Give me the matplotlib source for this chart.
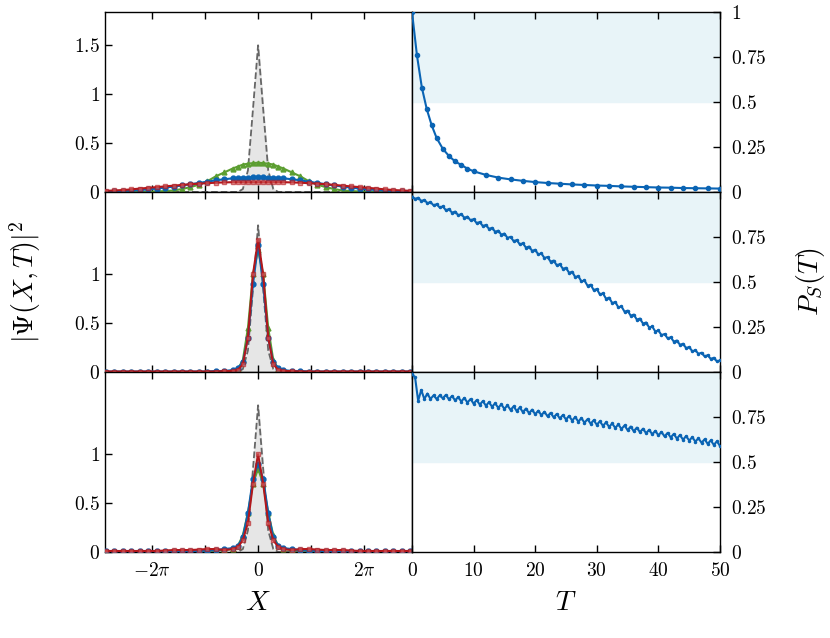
import numpy as np
import matplotlib
matplotlib.use("Agg")
import matplotlib.pyplot as plt

plt.rcParams['mathtext.fontset'] = 'cm'
plt.rcParams['font.family'] = 'serif'
plt.rcParams['font.serif'] = ['cmr10', 'DejaVu Serif']
plt.rcParams['axes.formatter.use_mathtext'] = True

# ---- left panels: |Psi(X,T)|^2 ----
xh = [0, 0.3, 0.6, 0.9, 1.2, 1.5, 2, 2.5, 3, 3.5, 4, 4.5, 5, 5.5, 6, 6.5, 7, 7.5, 8, 8.5, 9]
gray_h = [1.5, 0.85, 0.22, 0.03, 0, 0, 0, 0, 0, 0, 0, 0, 0, 0, 0, 0, 0, 0, 0, 0, 0]
top_green = [0.30, 0.295, 0.29, 0.28, 0.26, 0.24, 0.2, 0.16, 0.11, 0.075, 0.05, 0.03, 0.015, 0.01, 0.005, 0.003, 0, 0, 0, 0, 0]
top_blue = [0.15, 0.15, 0.148, 0.146, 0.143, 0.14, 0.13, 0.12, 0.105, 0.092, 0.08, 0.067, 0.055, 0.045, 0.035, 0.027, 0.02, 0.015, 0.01, 0.007, 0.005]
top_red = [0.10, 0.10, 0.10, 0.10, 0.10, 0.10, 0.098, 0.095, 0.09, 0.085, 0.08, 0.072, 0.065, 0.057, 0.05, 0.042, 0.035, 0.027, 0.02, 0.016, 0.012]
mid_red = [1.35, 1.0, 0.35, 0.08, 0.02, 0.01, 0.01, 0.005, 0.005, 0.005, 0.005, 0.005, 0.005, 0.005, 0.005, 0.005, 0.005, 0.005, 0.005, 0.005, 0.005]
mid_blue = [1.3, 0.9, 0.35, 0.1, 0.04, 0.02, 0.01, 0.01, 0.005, 0.005, 0.005, 0.005, 0.005, 0.005, 0.005, 0.005, 0.005, 0.005, 0.005, 0.005, 0.005]
mid_green = [1.25, 1.0, 0.45, 0.12, 0.03, 0.01, 0.005, 0.005, 0, 0, 0, 0, 0, 0, 0, 0, 0, 0, 0, 0, 0]
bot_red = [1.0, 0.7, 0.3, 0.12, 0.05, 0.03, 0.02, 0.03, 0.03, 0.025, 0.02, 0.02, 0.02, 0.015, 0.01, 0.01, 0.01, 0.01, 0.01, 0.01, 0.01]
bot_blue = [0.9, 0.75, 0.4, 0.15, 0.06, 0.04, 0.03, 0.02, 0.015, 0.012, 0.01, 0.01, 0.01, 0.01, 0.01, 0.01, 0.01, 0.01, 0.01, 0.01, 0.01]
bot_green = [0.85, 0.7, 0.4, 0.17, 0.06, 0.03, 0.02, 0.015, 0.01, 0.008, 0.005, 0.005, 0.005, 0.005, 0.005, 0.005, 0.005, 0.005, 0.005, 0.005, 0.005]

def sym(v):
    return np.array(v[::-1][:-1] + v)
X = np.concatenate([-np.array(xh[::-1][:-1]), np.array(xh)])

# ---- right panels: P_S(T) ----
T_top = [0, 0.8, 1.6, 2.4, 3.2, 4, 5, 6, 7, 8, 9, 10, 12, 14, 16, 18, 20, 22, 24, 26, 28, 30, 32, 34, 36, 38, 40, 42, 44, 46, 48, 50]
P_top = [1.0, 0.76, 0.58, 0.46, 0.37, 0.30, 0.24, 0.20, 0.17, 0.15, 0.13, 0.115, 0.095, 0.08, 0.07,
         0.062, 0.055, 0.050, 0.046, 0.042, 0.039, 0.036, 0.034, 0.031, 0.029, 0.027, 0.025, 0.024, 0.022, 0.021, 0.020, 0.019]
T_half = np.arange(0, 50.01, 0.5)
P_mid = [0.975,0.962,0.968,0.950,0.956,0.938,0.944,0.926,0.932,0.914,0.920,
 0.899,0.905,0.885,0.891,0.871,0.877,0.857,0.863,0.843,0.849,
 0.827,0.833,0.811,0.817,0.795,0.801,0.779,0.785,0.763,0.769,
 0.745,0.751,0.727,0.733,0.709,0.715,0.691,0.697,0.673,0.679,
 0.653,0.659,0.633,0.639,0.613,0.619,0.593,0.599,0.573,0.579,
 0.551,0.557,0.527,0.533,0.503,0.509,0.479,0.485,0.455,0.461,
 0.431,0.437,0.407,0.413,0.383,0.389,0.359,0.365,0.335,0.341,
 0.313,0.319,0.291,0.297,0.269,0.275,0.247,0.253,0.225,0.231,
 0.205,0.211,0.187,0.193,0.169,0.175,0.151,0.157,0.133,0.139,
 0.115,0.121,0.101,0.107,0.087,0.093,0.073,0.079,0.059,0.065]
P_bot = [0.99,0.97,0.84,0.90,0.85,0.88,0.85,0.87,0.85,0.87,
 0.854,0.873,0.848,0.867,0.842,0.861,0.836,0.856,0.830,0.850,0.824,0.844,0.819,0.838,0.813,0.832,
 0.807,0.826,0.801,0.820,0.795,0.815,0.789,0.809,0.783,0.803,0.777,0.797,0.771,0.791,0.765,0.785,
 0.760,0.779,0.754,0.773,0.748,0.767,0.742,0.761,0.736,0.756,0.730,0.750,0.724,0.744,0.718,0.738,
 0.713,0.732,0.707,0.726,0.701,0.720,0.695,0.714,0.689,0.709,0.683,0.703,0.677,0.697,0.671,0.691,
 0.666,0.685,0.660,0.679,0.654,0.673,0.648,0.667,0.642,0.662,0.636,0.656,0.630,0.650,0.624,0.644,
 0.619,0.638,0.613,0.632,0.607,0.626,0.601,0.620,0.595,0.615,0.589]

BLUE = '#0a64b4'; GREEN = '#5c9e31'; RED = '#b2171c'
fig = plt.figure(figsize=(8.3, 6.38), dpi=100)
W, H = 830, 638
rows = [(12, 192), (192, 372), (372, 552)]
left_sets = [(top_green, top_blue, top_red), (mid_green, mid_blue, mid_red), (bot_green, bot_blue, bot_red)]
right_sets = [(T_top, P_top, 3), (T_half, P_mid, 1.5), (T_half, P_bot, 1.5)]

for i, (y0, y1) in enumerate(rows):
    b = 1 - y1 / H; h = (y1 - y0) / H
    axl = fig.add_axes([105 / W, b, 307 / W, h])
    axr = fig.add_axes([412 / W, b, 308 / W, h])
    g = sym(gray_h)
    axl.fill_between(X, 0, g, color='#e6e6e6', zorder=1)
    axl.plot(X, g, '--', color='#666666', lw=1.3, zorder=2)
    gr, bl, rd = left_sets[i]
    axl.plot(X, sym(gr), '-^', color=GREEN, lw=1.5, ms=3.5, zorder=3)
    axl.plot(X, sym(bl), '-o', color=BLUE, lw=1.5, ms=3.5, zorder=4)
    axl.plot(X, sym(rd), '-s', color=RED, lw=1.5, ms=3.5, mfc=(0.85, 0.4, 0.4, 0.6), zorder=5)
    axl.set_xlim(-9.05, 9.1)
    axl.set_ylim(0, 1.84)
    axl.set_yticks([0, 0.5, 1, 1.5] if i == 0 else [0, 0.5, 1])
    axl.set_yticklabels(['$0$', '$0.5$', '$1$', '$1.5$'] if i == 0 else ['$0$', '$0.5$', '$1$'])
    axl.set_xticks([-2 * np.pi, -np.pi, 0, np.pi, 2 * np.pi])
    if i == 2:
        axl.set_xticklabels(['$-2\\pi$', '', '$0$', '', '$2\\pi$'])
    else:
        axl.set_xticklabels([])
    axl.tick_params(direction='in', top=True, right=False, labelsize=14, length=5, width=1)
    axl.tick_params(axis='x', pad=7)

    T, P, ms = right_sets[i]
    axr.axhspan(0.5, 1.0, color='#e8f4f8', zorder=0)
    axr.plot(T, P, '-o', color=BLUE, lw=1.5, ms=ms, zorder=3)
    axr.set_xlim(0, 50)
    axr.set_ylim(0, 1)
    axr.yaxis.tick_right()
    if i == 0:
        axr.set_yticks([0, 0.25, 0.5, 0.75, 1])
        axr.set_yticklabels(['$0$', '$0.25$', '$0.5$', '$0.75$', '$1$'])
    else:
        axr.set_yticks([0, 0.25, 0.5, 0.75])
        axr.set_yticklabels(['$0$', '$0.25$', '$0.5$', '$0.75$'])
    axr.set_xticks([0, 10, 20, 30, 40, 50])
    if i == 2:
        axr.set_xticklabels(['$0$', '$10$', '$20$', '$30$', '$40$', '$50$'])
    else:
        axr.set_xticklabels([])
    axr.tick_params(direction='in', top=True, left=False, right=True, labelsize=14, length=5, width=1)
    axr.tick_params(axis='x', pad=7)
    axr.tick_params(axis='y', pad=8)
    for a in (axl, axr):
        for s in a.spines.values():
            s.set_linewidth(1.0)

fig.text(25 / W, 1 - 282 / H, '$|\\Psi(X,T)|^2$', rotation=90, ha='center', va='center', fontsize=20)
fig.text(810 / W, 1 - 282 / H, '$P_S(T)$', rotation=90, ha='center', va='center', fontsize=20)
fig.text(258 / W, 1 - 603 / H, '$X$', ha='center', va='center', fontsize=20)
fig.text(566 / W, 1 - 603 / H, '$T$', ha='center', va='center', fontsize=20)
fig.savefig('out.png', dpi=100)
